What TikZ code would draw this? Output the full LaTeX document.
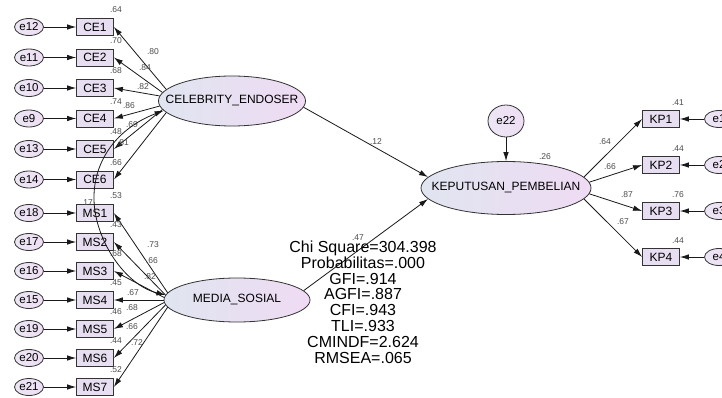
\documentclass[tikz,border=0pt]{standalone}
\usepackage{fontspec}
\setmainfont{Liberation Sans}
\usepackage{xcolor}
\usepackage{tikz}
\usetikzlibrary{arrows.meta, shapes.geometric, positioning}

\definecolor{boxfill}{RGB}{232,222,241}
\definecolor{latleft}{RGB}{224,229,240}
\definecolor{latright}{RGB}{239,219,243}
\definecolor{errleft}{RGB}{236,230,244}
\definecolor{errright}{RGB}{238,222,244}

\begin{document}
\begin{tikzpicture}[x=1pt, y=-1pt, >={Latex[length=9pt,width=5.5pt]}, line width=0.8pt,
    obs/.style={draw=black!80, fill=boxfill, minimum width=37pt, minimum height=17pt,
        inner sep=0pt, font=\fontsize{12}{13}\selectfont},
    err/.style={ellipse, draw=black!80, left color=errleft, right color=errright,
        minimum width=29pt, minimum height=17pt, inner sep=0pt, font=\fontsize{11.5}{12}\selectfont},
    latent/.style={ellipse, draw=black!80, left color=latleft, right color=latright, inner sep=0pt},
    latlabel/.style={font=\fontsize{12}{13}\selectfont},
    coef/.style={font=\fontsize{8.5}{9}\selectfont, text=black!70, inner sep=0pt},
    arr/.style={->, draw=black!90}]
    \useasboundingbox (0,0) rectangle (722,398);
    \fill[white] (0,0) rectangle (722,398);
    \clip (0,0) rectangle (722,398);

    % Variabel laten
    \node[latent, minimum width=147pt, minimum height=50pt,
        label={[latlabel]center:CELEBRITY\_ENDOSER}] (ce) at (232,101) {};
    \node[latent, minimum width=146pt, minimum height=44pt,
        label={[latlabel]center:MEDIA\_SOSIAL}] (ms) at (237,300) {};
    \node[latent, minimum width=170pt, minimum height=53pt,
        label={[latlabel]center:KEPUTUSAN\_PEMBELIAN}] (kp) at (506,188) {};

    % Indikator CE
    \foreach \i/\e/\y/\a/\ld/\rr/\lx/\ly in {1/12/27/170/.80/.64/153/52, 2/11/57.5/173/.84/.70/145/68,
        3/10/88/176/.82/.68/143/87, 4/9/118.5/184/.86/.74/129/106,
        5/13/149/187/.69/.48/132/125, 6/14/179.5/190/.81/.66/123/143} {
        \node[obs] (CE\i) at (95,\y) {CE\i};
        \node[err] (e\e) at (29,\y) {e\e};
        \draw[arr] (e\e) -- (CE\i);
        \draw[arr] (ce.\a) -- (CE\i.east);
        \node[coef] (rce\i) at (116,\y-17) {\rr};
        \node[coef] (lce\i) at (\lx,\ly) {\ld};
    }

    % Indikator MS
    \foreach \i/\e/\y/\a/\ld/\rr/\lx/\ly in {1/18/213/174/.73/.53/153/245, 2/17/242/176/.66/.43/152/261,
        3/16/271/178/.82/.68/150/277, 4/15/300/180/.67/.45/133/293,
        5/19/329/182/.68/.46/132/308, 6/20/358/184/.66/.44/132/327, 7/21/387/186/.72/.52/137/343} {
        \node[obs] (MS\i) at (95,\y) {MS\i};
        \node[err] (e\e) at (29,\y) {e\e};
        \draw[arr] (e\e) -- (MS\i);
        \draw[arr] (ms.\a) -- (MS\i.east);
        \node[coef] (rms\i) at (116,\y-17) {\rr};
        \node[coef] (lms\i) at (\lx,\ly) {\ld};
    }

    % Indikator KP
    \foreach \i/\y/\a/\ld/\rr/\lx/\ly in {1/119/8/.64/.41/605/142, 2/165/4/.66/.44/610/167,
        3/211/356/.87/.76/627/195, 4/257/352/.67/.44/623/222} {
        \node[obs] (KP\i) at (661,\y) {KP\i};
        \node[err] (e\i) at (719,\y) {e\i};
        \draw[arr] (e\i) -- (KP\i);
        \draw[arr] (kp.\a) -- (KP\i.west);
        \node[coef] (rkp\i) at (678,\y-16) {\rr};
        \node[coef] (lkp\i) at (\lx,\ly) {\ld};
    }

    % Error e22 dan jalur struktural
    \node[err, minimum width=36pt, minimum height=32pt] (e22) at (506,121) {e22};
    \draw[arr] (e22) -- (kp);
    \draw[arr] (ce.355) -- (kp.172);
    \draw[arr] (ms.8) -- (kp.188);

    % Kovarians
    \draw[<->, draw=black!90] (ce.188) .. controls (118,128) and (93,160) .. (94,200)
        .. controls (95,240) and (125,285) .. (ms.176);

    \node[coef] (b12) at (376,142) {.12};
    \node[coef] (b47) at (358,238) {.47};
    \node[coef] (r26) at (545,157) {.26};
    \node[coef] (c17) at (87,203) {.17};

    % Indeks kecocokan
    \node[align=center, font=\fontsize{16}{15.8}\selectfont] (fit) at (363,302)
        {Chi Square=304.398\\Probabilitas=.000\\GFI=.914\\AGFI=.887\\CFI=.943\\TLI=.933\\CMINDF=2.624\\RMSEA=.065};
\end{tikzpicture}
\end{document}
